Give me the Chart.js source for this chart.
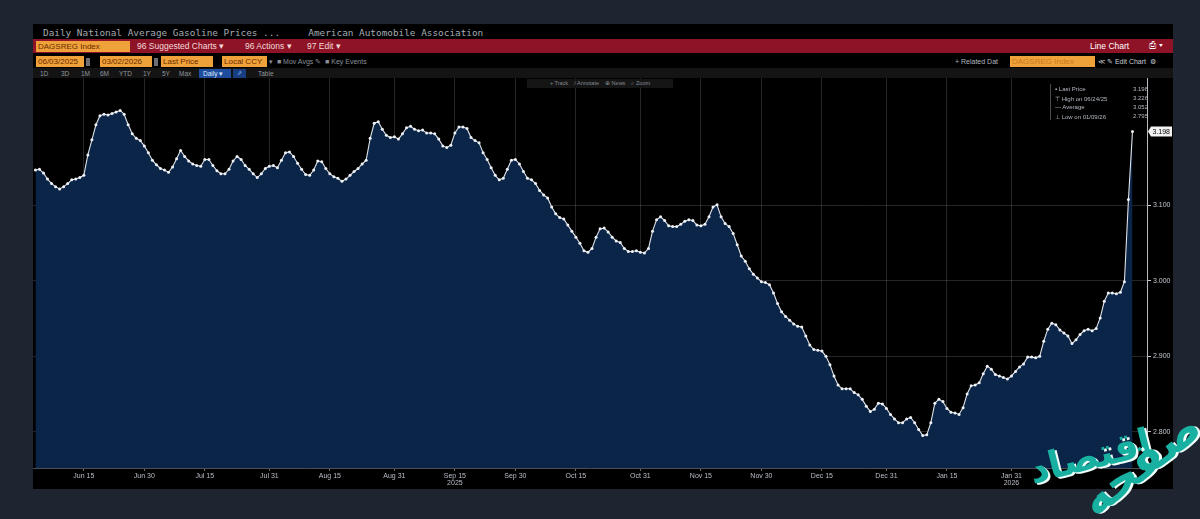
<!DOCTYPE html>
<html><head><meta charset="utf-8">
<script src="https://cdn.jsdelivr.net/npm/chart.js@4.4.1/dist/chart.umd.min.js"></script>
<style>
html,body{margin:0;padding:0;}
body{width:1200px;height:519px;background:#1e2430;overflow:hidden;position:relative;font-family:"Liberation Sans",Arial,sans-serif;}
.a{position:absolute;white-space:pre;line-height:1;}
#panel{position:absolute;left:33px;top:24px;width:1140px;height:465px;background:#000;}
#redbar{position:absolute;left:33px;top:39px;width:1140px;height:14px;background:#8e1326;}
.ob{position:absolute;background:#f0a23a;color:#6a2a00;font-size:8px;height:11px;line-height:11px;padding-left:2px;box-sizing:border-box;overflow:hidden;}
.sq{position:absolute;width:4px;height:8px;background:#6b6f75;}
#row3{position:absolute;left:33px;top:68px;width:1140px;height:10px;background:#141414;}
.r3{position:absolute;top:70px;font-size:6.5px;color:#8e959d;}
#chartwrap{position:absolute;left:33px;top:78px;width:1140px;height:412px;}
#tools{position:absolute;left:527px;top:79px;width:146px;height:9px;background:#151515;color:#858b93;font-size:5.5px;line-height:9px;white-space:pre;text-align:center;}
#leg{position:absolute;left:1050px;top:84px;width:96px;height:36px;border-left:1px solid #4a4a4a;background:rgba(0,0,0,0.7);font-size:6px;color:#b5bbc3;}
#leg div{position:absolute;left:4px;white-space:pre;}
#leg span{position:absolute;left:78px;}
.wm{position:absolute;font-family:"DejaVu Sans",sans-serif;font-weight:bold;color:#17b0a1;text-shadow:2px 2px 0 #effffc;white-space:nowrap;direction:rtl;line-height:1;}
</style>
</head><body>
<div id="panel"></div>
<div class="a" style="left:43px;top:28px;font-family:'DejaVu Sans Mono',monospace;font-size:9.4px;color:#a3aab3;">Daily National Average Gasoline Prices ...     American Automobile Association</div>
<div id="redbar"></div>
<div class="ob" style="left:36px;top:40.5px;width:94px;">DAGSREG Index</div>
<div class="a" style="left:137px;top:42px;font-size:8.5px;color:#f3dada;">96 Suggested Charts ▾</div>
<div class="a" style="left:245px;top:42px;font-size:8.5px;color:#f3dada;">96 Actions ▾</div>
<div class="a" style="left:307px;top:42px;font-size:8.5px;color:#f3dada;">97 Edit ▾</div>
<div class="a" style="left:1090px;top:42px;font-size:8.5px;color:#ffffff;">Line Chart</div>
<div class="a" style="left:1149px;top:41px;font-size:9px;color:#ffffff;">⎙ ▾</div>

<div class="ob" style="left:36px;top:56px;width:48px;">06/03/2025</div>
<div class="sq" style="left:86px;top:57.5px;"></div>
<div class="ob" style="left:100px;top:56px;width:52px;">03/02/2026</div>
<div class="sq" style="left:154px;top:57.5px;"></div>
<div class="ob" style="left:161px;top:56px;width:52px;">Last Price</div>
<div class="ob" style="left:222px;top:56px;width:45px;">Local CCY</div>
<div class="a" style="left:269px;top:58px;font-size:7px;color:#8a9199;">▾  ■ Mov Avgs ✎  ■ Key Events</div>
<div class="a" style="left:955px;top:58px;font-size:7px;color:#b0b6bd;">+ Related Dat</div>
<div class="ob" style="left:1010px;top:56px;width:85px;color:#c87a20;">DAGSREG Index</div>
<div class="a" style="left:1098px;top:58px;font-size:7px;color:#c7ccd2;">≪ ✎ Edit Chart  ⚙</div>

<div id="row3"></div>
<div class="r3" style="left:40px;">1D</div>
<div class="r3" style="left:61px;">3D</div>
<div class="r3" style="left:81px;">1M</div>
<div class="r3" style="left:100px;">6M</div>
<div class="r3" style="left:119px;">YTD</div>
<div class="r3" style="left:143px;">1Y</div>
<div class="r3" style="left:162px;">5Y</div>
<div class="r3" style="left:179px;">Max</div>
<div class="a" style="left:199px;top:68.5px;width:32px;height:9px;background:#1d4d9c;color:#dfe8ff;font-size:6.5px;line-height:9px;padding-left:4px;box-sizing:border-box;">Daily ▾</div>
<div class="a" style="left:233px;top:68.5px;width:13px;height:9px;background:#173e80;color:#9fc0ff;font-size:6px;line-height:9px;text-align:center;">⇗</div>
<div class="r3" style="left:258px;">Table</div>

<div id="chartwrap"><canvas id="c" width="1140" height="412"></canvas></div>
<div id="tools">+ Track    / Annotate    ⊕ News    ⌕ Zoom</div>
<div id="leg">
<div style="top:2px;">▪ Last Price<span>3.198</span></div>
<div style="top:11px;">⊤ High on 06/24/25<span>3.226</span></div>
<div style="top:20px;">— Average<span>3.052</span></div>
<div style="top:29px;">⊥ Low on 01/09/26<span>2.795</span></div>
</div>

<div class="wm" style="left:1090px;top:456px;font-size:38px;transform:translate(-50%,-50%) rotate(-14deg);">اقتصاد</div>
<div class="wm" style="left:1140px;top:463px;font-size:46px;transform:translate(-50%,-50%) rotate(-38deg);">صفحه</div>

<script>
// ---- data ----
const startDate = '2025-06-03';
const prices = [
3.147,3.148,3.143,3.135,3.129,3.125,3.122,3.125,3.129,3.134,
3.135,3.137,3.140,3.167,3.187,3.207,3.219,3.221,3.220,3.222,
3.224,3.226,3.221,3.207,3.195,3.189,3.186,3.179,3.170,3.160,
3.154,3.149,3.147,3.144,3.151,3.162,3.173,3.165,3.159,3.155,
3.153,3.152,3.161,3.161,3.153,3.146,3.142,3.142,3.148,3.159,
3.165,3.161,3.153,3.148,3.142,3.137,3.142,3.149,3.152,3.153,
3.150,3.160,3.170,3.171,3.165,3.156,3.148,3.141,3.140,3.147,
3.159,3.158,3.149,3.142,3.138,3.136,3.132,3.135,3.140,3.145,
3.149,3.155,3.160,3.189,3.209,3.211,3.201,3.193,3.190,3.191,
3.188,3.195,3.203,3.205,3.201,3.199,3.200,3.196,3.196,3.195,
3.188,3.179,3.177,3.180,3.196,3.204,3.204,3.202,3.190,3.186,
3.183,3.170,3.161,3.150,3.140,3.134,3.136,3.148,3.160,3.161,
3.155,3.145,3.136,3.134,3.129,3.120,3.114,3.110,3.098,3.089,
3.084,3.082,3.074,3.066,3.058,3.050,3.040,3.038,3.043,3.058,
3.069,3.070,3.065,3.058,3.053,3.051,3.043,3.039,3.039,3.040,
3.038,3.037,3.043,3.066,3.081,3.085,3.080,3.073,3.072,3.072,
3.075,3.079,3.081,3.080,3.074,3.073,3.075,3.085,3.098,3.101,
3.085,3.076,3.072,3.063,3.048,3.033,3.026,3.016,3.009,3.004,
2.999,2.998,2.995,2.984,2.970,2.959,2.953,2.948,2.943,2.940,
2.939,2.927,2.915,2.909,2.908,2.907,2.900,2.889,2.874,2.862,
2.857,2.857,2.857,2.852,2.849,2.843,2.834,2.827,2.830,2.838,
2.837,2.831,2.823,2.817,2.812,2.812,2.817,2.819,2.812,2.803,
2.795,2.796,2.812,2.838,2.843,2.840,2.831,2.826,2.825,2.823,
2.832,2.850,2.861,2.862,2.865,2.877,2.887,2.883,2.876,2.874,
2.872,2.870,2.874,2.880,2.886,2.890,2.899,2.899,2.898,2.900,
2.920,2.936,2.944,2.942,2.935,2.931,2.927,2.917,2.922,2.929,
2.934,2.936,2.934,2.937,2.951,2.973,2.984,2.984,2.983,2.985,
2.999,3.108,3.198
];
// day offsets (from startDate) of labelled x ticks
const tickDays = [12,27,42,58,73,89,104,119,134,150,165,180,195,211,226,242];
const tickLabels = ['Jun 15','Jun 30','Jul 15','Jul 31','Aug 15','Aug 31','Sep 15','Sep 30','Oct 15','Oct 31','Nov 15','Nov 30','Dec 15','Dec 31','Jan 15','Jan 31'];
const yearLabels = ['','','','','','','2025','','','','','','','','','2026'];
const yTicks = [2.8, 2.9, 3.0, 3.1];

const gridCol = 'rgba(150,160,175,0.24)';
const tickFont = {family:'Liberation Sans', size:7, lineHeight:1.1};

const lastPricePlugin = {
  id:'lastPrice',
  afterDraw(chart){
    const ctx = chart.ctx, ys = chart.scales.y, area = chart.chartArea;
    const v = prices[prices.length-1];
    const y = ys.getPixelForValue(v);
    const x0 = area.right + 4;
    ctx.save();
    ctx.fillStyle = '#f2f2f2';
    ctx.beginPath();
    ctx.moveTo(x0-3, y);
    ctx.lineTo(x0, y-5);
    ctx.lineTo(x0+21, y-5);
    ctx.lineTo(x0+21, y+5);
    ctx.lineTo(x0, y+5);
    ctx.closePath();
    ctx.fill();
    ctx.fillStyle = '#000';
    ctx.font = '7px "Liberation Sans"';
    ctx.textBaseline = 'middle';
    ctx.fillText(v.toFixed(3), x0+1.5, y+0.5);
    ctx.restore();
  }
};

new Chart(document.getElementById('c'), {
  type:'line',
  data:{
    datasets:[{
      data: prices.map((p,i)=>({x:i, y:p})),
      borderColor:'#dfe3e9',
      borderWidth:1.1,
      pointRadius:1.5,
      pointBackgroundColor:'#eef1f5',
      pointBorderWidth:0,
      fill:'start',
      backgroundColor:'#0b2548',
      tension:0
    }]
  },
  options:{
    responsive:false,
    animation:false,
    layout:{padding:0, autoPadding:false},
    plugins:{legend:{display:false}, tooltip:{enabled:false}},
    scales:{
      x:{
        type:'linear', min:-0.6, max:275.6, z:1,
        afterBuildTicks(s){ s.ticks = tickDays.map(v=>({value:v})); },
        afterFit(s){ s.height = 22; s.paddingLeft = 0; s.paddingRight = 0; },
        grid:{color:gridCol, tickLength:3, tickColor:'#666'},
        border:{display:true, color:'#4a4f57'},
        ticks:{
          autoSkip:false, maxRotation:0, color:'#b9bfc7', font:tickFont, padding:1,
          callback(v, i){ return yearLabels[i] ? [tickLabels[i], yearLabels[i]] : tickLabels[i]; }
        }
      },
      y:{
        type:'linear', position:'right', min:2.752, max:3.269, z:1,
        afterBuildTicks(s){ s.ticks = yTicks.map(v=>({value:v})); },
        afterFit(s){ s.width = 26; s.paddingTop = 0; s.paddingBottom = 0; },
        grid:{color:gridCol, tickLength:4, tickColor:'#c5c9ce'},
        border:{display:true, color:'#b8bcc2', width:1},
        ticks:{color:'#c2c8cf', font:tickFont, padding:2, callback(v){ return v.toFixed(3); }}
      }
    }
  },
  plugins:[lastPricePlugin]
});
</script>
</body></html>
